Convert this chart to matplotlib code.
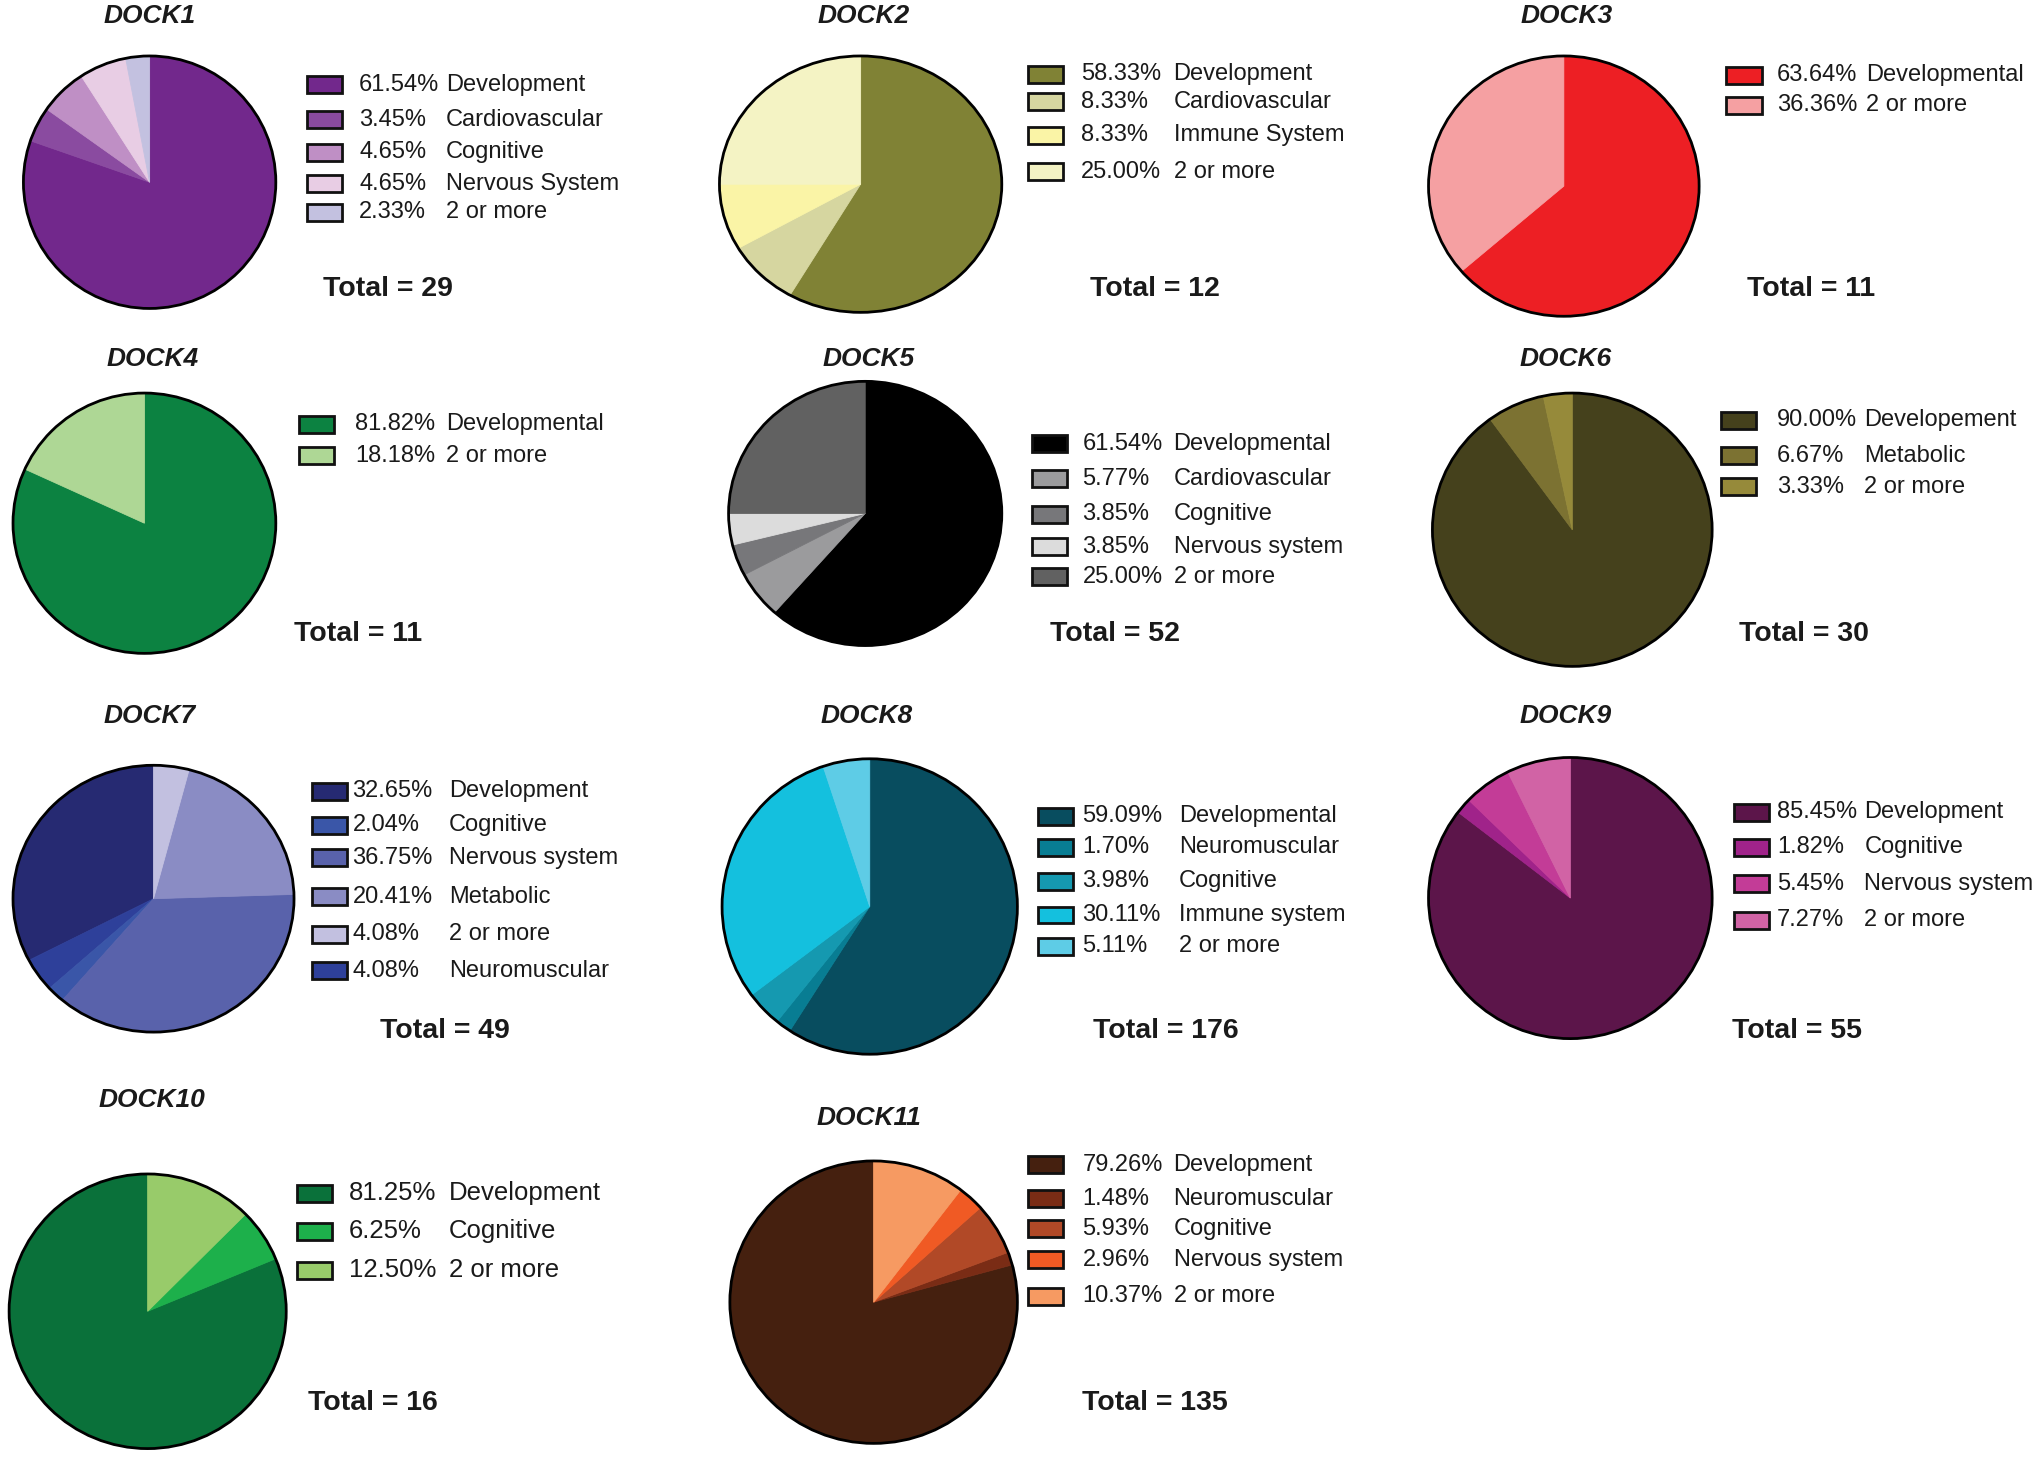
import matplotlib
matplotlib.use("Agg")
import matplotlib.pyplot as plt
from matplotlib.patches import Rectangle, Circle

plt.rcParams['font.family'] = ['Liberation Sans', 'DejaVu Sans']

# ---- data ----
DOCK1_PCT = [61.54, 3.45, 4.65, 4.65, 2.33]
DOCK1_LABELS = ["Development", "Cardiovascular", "Cognitive", "Nervous System", "2 or more"]
DOCK1_COLORS = ["#72288c", "#8a4ba0", "#bf8fc5", "#e8cde4", "#c3c1e0"]

DOCK2_PCT = [58.33, 8.33, 8.33, 25.00]
DOCK2_LABELS = ["Development", "Cardiovascular", "Immune System", "2 or more"]
DOCK2_COLORS = ["#808235", "#d6d6a0", "#faf4a6", "#f4f3c4"]

DOCK3_PCT = [63.64, 36.36]
DOCK3_LABELS = ["Developmental", "2 or more"]
DOCK3_COLORS = ["#ed1f24", "#f5a0a2"]

DOCK4_PCT = [81.82, 18.18]
DOCK4_LABELS = ["Developmental", "2 or more"]
DOCK4_COLORS = ["#0c8241", "#aed795"]

DOCK5_PCT = [61.54, 5.77, 3.85, 3.85, 25.00]
DOCK5_LABELS = ["Developmental", "Cardiovascular", "Cognitive", "Nervous system", "2 or more"]
DOCK5_COLORS = ["#000000", "#9b9b9d", "#77777a", "#dcdcdc", "#616161"]

DOCK6_PCT = [90.00, 6.67, 3.33]
DOCK6_LABELS = ["Developement", "Metabolic", "2 or more"]
DOCK6_COLORS = ["#45411c", "#7c7232", "#968a3a"]

DOCK7_PCT = [32.65, 2.04, 36.75, 20.41, 4.08, 4.08]
DOCK7_LABELS = ["Development", "Cognitive", "Nervous system", "Metabolic", "2 or more", "Neuromuscular"]
DOCK7_COLORS = ["#262a72", "#3a56a8", "#5962ab", "#8a8cc4", "#c2c0e0", "#2e409a"]
DOCK7_WEDGE_ORDER = [0, 5, 1, 2, 3, 4]

DOCK8_PCT = [59.09, 1.70, 3.98, 30.11, 5.11]
DOCK8_LABELS = ["Developmental", "Neuromuscular", "Cognitive", "Immune system", "2 or more"]
DOCK8_COLORS = ["#084d5f", "#087d93", "#1599b0", "#14c0de", "#5ecce6"]

DOCK9_PCT = [85.45, 1.82, 5.45, 7.27]
DOCK9_LABELS = ["Development", "Cognitive", "Nervous system", "2 or more"]
DOCK9_COLORS = ["#5c154a", "#a0238a", "#c33c97", "#d163a5"]

DOCK10_PCT = [81.25, 6.25, 12.50]
DOCK10_LABELS = ["Development", "Cognitive", "2 or more"]
DOCK10_COLORS = ["#0a713a", "#1db04b", "#98cb6a"]

DOCK11_PCT = [79.26, 1.48, 5.93, 2.96, 10.37]
DOCK11_LABELS = ["Development", "Neuromuscular", "Cognitive", "Nervous system", "2 or more"]
DOCK11_COLORS = ["#45200f", "#7a2c15", "#b14927", "#f05a24", "#f69a62"]

TOTALS = [29, 12, 11, 11, 52, 30, 49, 176, 55, 16, 135]

W, H = 1568.0, 1121.0
fig = plt.figure(figsize=(20.4, 14.59), dpi=100)


def fx(x):
    return x / W


def fy(y):
    return 1 - y / H


def panel(name, pct, labels, colors, total, pie_box, title_xy, legend, total_xy,
          counterclock=False, order=None, fs=17):
    x0, x1, y0, y1 = pie_box
    cx, cy = (x0 + x1) / 2, (y0 + y1) / 2
    rx, ry = (x1 - x0) / 2 * 1.03, (y1 - y0) / 2 * 1.03
    ax = fig.add_axes([fx(cx - rx), fy(cy + ry), 2 * rx / W, 2 * ry / H])
    idx = order if order is not None else list(range(len(pct)))
    wedges, _ = ax.pie([pct[i] for i in idx], colors=[colors[i] for i in idx],
                       startangle=90, counterclock=counterclock,
                       wedgeprops=dict(linewidth=0.6))
    for w in wedges:
        w.set_edgecolor(w.get_facecolor())
    ax.add_patch(Circle((0, 0), 1, fill=False, ec='black', lw=2.0))
    ax.set_aspect('auto')
    ax.set_xlim(-1.03, 1.03)
    ax.set_ylim(-1.03, 1.03)
    ax.axis('off')

    fig.text(fx(title_xy[0]), fy(title_xy[1]), name, ha='center', va='center',
             fontsize=19, fontweight='bold', fontstyle='italic', color='#1a1a1a')

    bx, px, lx, rows = legend
    for i, ry_ in enumerate(rows):
        fig.add_artist(Rectangle((fx(bx), fy(ry_ + 6.5)), 27 / W, 13 / H,
                                 transform=fig.transFigure, fc=colors[i],
                                 ec='#111111', lw=2))
        fig.text(fx(px), fy(ry_), f"{pct[i]:.2f}%", ha='left', va='center',
                 fontsize=fs, color='#1a1a1a')
        fig.text(fx(lx), fy(ry_), labels[i], ha='left', va='center',
                 fontsize=fs, color='#1a1a1a')

    fig.text(fx(total_xy[0]), fy(total_xy[1] + 1), f"Total = {total}", ha='left',
             va='center', fontsize=20.5, fontweight='bold', color='#1a1a1a')


panel("DOCK1", DOCK1_PCT, DOCK1_LABELS, DOCK1_COLORS, TOTALS[0],
      (18, 212, 43, 237), (115, 12),
      (236, 276, 343, [65, 92, 117, 141, 163]), (248, 221))
panel("DOCK2", DOCK2_PCT, DOCK2_LABELS, DOCK2_COLORS, TOTALS[1],
      (553, 770, 43, 240), (664, 12),
      (790, 831, 902, [57, 78, 104, 132]), (838, 221))
panel("DOCK3", DOCK3_PCT, DOCK3_LABELS, DOCK3_COLORS, TOTALS[2],
      (1098, 1306, 43, 243), (1204, 12),
      (1327, 1366, 1434, [58, 81]), (1343, 221))
panel("DOCK4", DOCK4_PCT, DOCK4_LABELS, DOCK4_COLORS, TOTALS[3],
      (10, 212, 302, 502), (117, 276),
      (230, 273, 343, [326, 350]), (226, 486))
panel("DOCK5", DOCK5_PCT, DOCK5_LABELS, DOCK5_COLORS, TOTALS[4],
      (560, 770, 293, 496), (668, 276),
      (793, 832, 902, [341, 368, 395, 420, 443]), (807, 486))
panel("DOCK6", DOCK6_PCT, DOCK6_LABELS, DOCK6_COLORS, TOTALS[5],
      (1101, 1316, 302, 512), (1203, 276),
      (1323, 1366, 1433, [323, 350, 374]), (1337, 486))
panel("DOCK7", DOCK7_PCT, DOCK7_LABELS, DOCK7_COLORS, TOTALS[6],
      (10, 226, 588, 793), (115, 550),
      (240, 271, 345, [608, 634, 659, 689, 718, 746]), (292, 791),
      counterclock=True, order=DOCK7_WEDGE_ORDER)
panel("DOCK8", DOCK8_PCT, DOCK8_LABELS, DOCK8_COLORS, TOTALS[7],
      (555, 782, 583, 810), (666, 550),
      (798, 832, 906, [627, 651, 677, 703, 727]), (840, 791))
panel("DOCK9", DOCK9_PCT, DOCK9_LABELS, DOCK9_COLORS, TOTALS[8],
      (1098, 1316, 582, 798), (1203, 550),
      (1333, 1366, 1433, [624, 651, 679, 707]), (1331, 791))
panel("DOCK10", DOCK10_PCT, DOCK10_LABELS, DOCK10_COLORS, TOTALS[9],
      (7, 220, 902, 1113), (117, 845),
      (228, 268, 345, [917, 946, 976]), (237, 1077),
      counterclock=True, fs=18.5)
panel("DOCK11", DOCK11_PCT, DOCK11_LABELS, DOCK11_COLORS, TOTALS[10],
      (561, 782, 892, 1109), (668, 859),
      (790, 832, 902, [895, 921, 944, 968, 996]), (832, 1077),
      counterclock=True)

fig.savefig("out.png", dpi=100, facecolor='white')
